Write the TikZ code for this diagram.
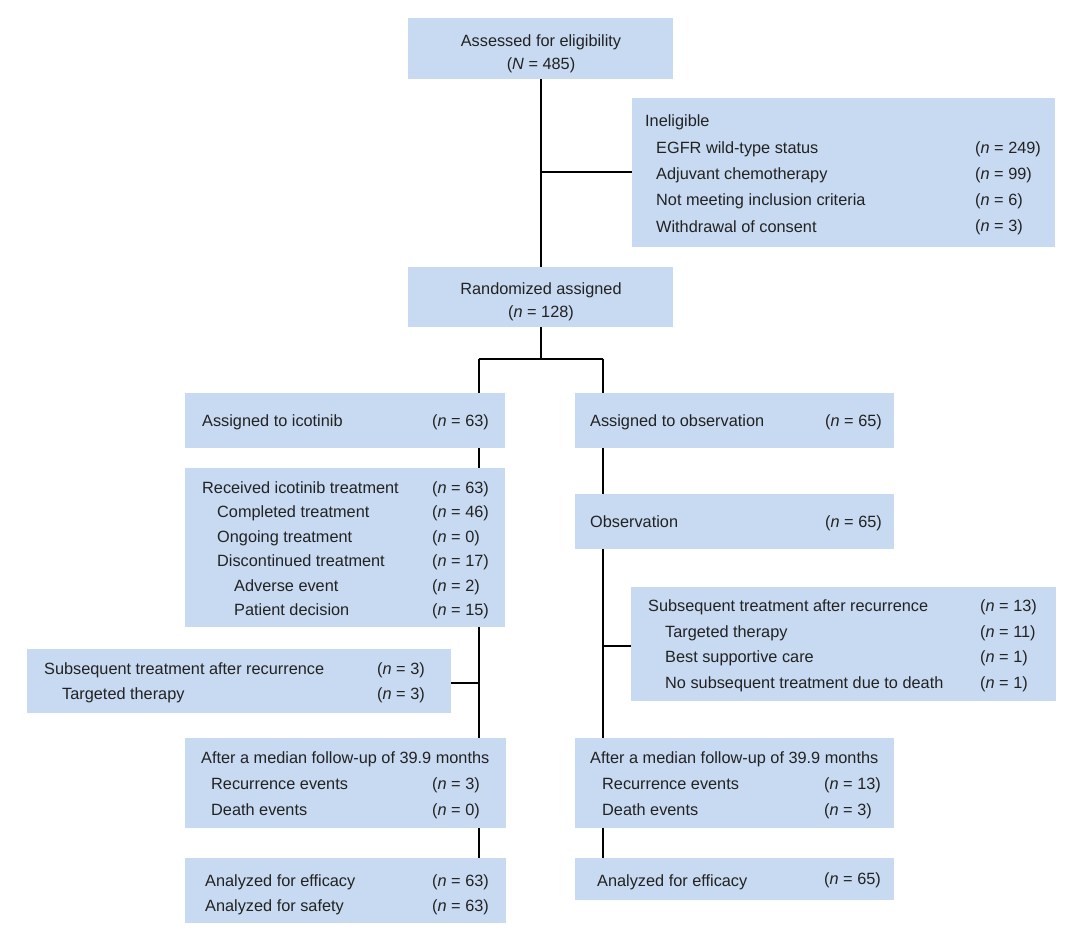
\documentclass[tikz,border=0pt]{standalone}
\usepackage{fontspec}
\setmainfont{Liberation Sans}
\definecolor{boxfill}{RGB}{200,218,241}
\definecolor{txtcol}{RGB}{34,34,34}
\tikzset{
  box/.style={fill=boxfill, draw=none, inner sep=0pt, outer sep=0pt},
  txt/.style={anchor=base west, inner sep=0pt, text=txtcol, font=\fontsize{16.3}{19}\selectfont},
  ctxt/.style={anchor=base, inner sep=0pt, text=txtcol, font=\fontsize{16.3}{19}\selectfont},
  link/.style={draw=black, line width=2.3pt}
}
\newcommand{\mkbox}[5]{%
  \pgfmathsetmacro{\bw}{#4-#2}\pgfmathsetmacro{\bh}{#5-#3}%
  \node[box, minimum width=\bw pt, minimum height=\bh pt] (#1) at ({(#2+#4)/2},{(#3+#5)/2}) {};}
\newcommand{\nn}[1]{(\textit{n} = #1)}
\begin{document}
\begin{tikzpicture}[x=1pt,y=-1pt]
\fill[white] (0,0) rectangle (1080,937);
\useasboundingbox (0,0) rectangle (1080,937);
% boxes
\mkbox{assess}{408}{18}{673}{79}
\mkbox{inel}{632}{98}{1055}{247}
\mkbox{rand}{408}{267}{673}{327}
\mkbox{aico}{185}{393}{505}{448}
\mkbox{rico}{185}{468}{505}{627}
\mkbox{aobs}{575}{393}{894}{448}
\mkbox{obs}{575}{494}{894}{549}
\mkbox{subR}{631}{587}{1056}{701}
\mkbox{subL}{27}{649}{451}{713}
\mkbox{medL}{185}{738}{506}{828}
\mkbox{medR}{575}{738}{894}{828}
\mkbox{anaL}{185}{858}{506}{923}
\mkbox{anaR}{575}{858}{894}{900}
% junction coordinates
\coordinate (j1) at (541,172);
\coordinate (j2) at (541,359);
\coordinate (jl) at (479,359);
\coordinate (jr) at (603,359);
\coordinate (jL) at (479,683);
\coordinate (jR) at (603,646);
% connectors
\draw[link] (assess.south -| j1) -- (rand.north -| j1);
\draw[link] (j1) -- (inel.west |- j1);
\draw[link] (rand.south -| j2) -- (j2);
\draw[link] (jl) -- (jr);
\draw[link] (jl) -- (aico.north -| jl);
\draw[link] (jr) -- (aobs.north -| jr);
\draw[link] (aico.south -| jl) -- (rico.north -| jl);
\draw[link] (rico.south -| jl) -- (medL.north -| jl);
\draw[link] (jL) -- (subL.east |- jL);
\draw[link] (medL.south -| jl) -- (anaL.north -| jl);
\draw[link] (aobs.south -| jr) -- (obs.north -| jr);
\draw[link] (obs.south -| jr) -- (medR.north -| jr);
\draw[link] (jR) -- (subR.west |- jR);
\draw[link] (medR.south -| jr) -- (anaR.north -| jr);
% texts
\node[ctxt] (t1) at (541,46) {Assessed for eligibility};
\node[ctxt] (t2) at (541,69) {(\textit{N} = 485)};
\node[txt] (t3) at (645,126) {Ineligible};
\node[txt] (t4) at (656,153) {EGFR wild-type status};
\node[txt] (t5) at (975,153) {\nn{249}};
\node[txt] (t6) at (656,179) {Adjuvant chemotherapy};
\node[txt] (t7) at (975,179) {\nn{99}};
\node[txt] (t8) at (656,205) {Not meeting inclusion criteria};
\node[txt] (t9) at (975,205) {\nn{6}};
\node[txt] (t10) at (656,232) {Withdrawal of consent};
\node[txt] (t11) at (975,231) {\nn{3}};
\node[ctxt] (t12) at (541,294) {Randomized assigned};
\node[ctxt] (t13) at (541,317) {\nn{128}};
\node[txt] (t14) at (202,426) {Assigned to icotinib};
\node[txt] (t15) at (432,426) {\nn{63}};
\node[txt] (t16) at (202,493) {Received icotinib treatment};
\node[txt] (t17) at (432,493) {\nn{63}};
\node[txt] (t18) at (217,517) {Completed treatment};
\node[txt] (t19) at (432,517) {\nn{46}};
\node[txt] (t20) at (217,542) {Ongoing treatment};
\node[txt] (t21) at (432,542) {\nn{0}};
\node[txt] (t22) at (217,566) {Discontinued treatment};
\node[txt] (t23) at (432,566) {\nn{17}};
\node[txt] (t24) at (234,591) {Adverse event};
\node[txt] (t25) at (432,591) {\nn{2}};
\node[txt] (t26) at (234,615) {Patient decision};
\node[txt] (t27) at (432,615) {\nn{15}};
\node[txt] (t28) at (590,426) {Assigned to observation};
\node[txt] (t29) at (825,426) {\nn{65}};
\node[txt] (t30) at (590,527) {Observation};
\node[txt] (t31) at (825,527) {\nn{65}};
\node[txt] (t32) at (648,611) {Subsequent treatment after recurrence};
\node[txt] (t33) at (980,611) {\nn{13}};
\node[txt] (t34) at (665,637) {Targeted therapy};
\node[txt] (t35) at (980,637) {\nn{11}};
\node[txt] (t36) at (665,662) {Best supportive care};
\node[txt] (t37) at (980,662) {\nn{1}};
\node[txt] (t38) at (665,688) {No subsequent treatment due to death};
\node[txt] (t39) at (980,688) {\nn{1}};
\node[txt] (t40) at (44,674) {Subsequent treatment after recurrence};
\node[txt] (t41) at (377,674) {\nn{3}};
\node[txt] (t42) at (62,699) {Targeted therapy};
\node[txt] (t43) at (377,699) {\nn{3}};
\node[txt] (t44) at (201,763) {After a median follow-up of 39.9 months};
\node[txt] (t45) at (211,789) {Recurrence events};
\node[txt] (t46) at (432,789) {\nn{3}};
\node[txt] (t47) at (211,815) {Death events};
\node[txt] (t48) at (432,815) {\nn{0}};
\node[txt] (t49) at (590,763) {After a median follow-up of 39.9 months};
\node[txt] (t50) at (602,789) {Recurrence events};
\node[txt] (t51) at (824,789) {\nn{13}};
\node[txt] (t52) at (602,815) {Death events};
\node[txt] (t53) at (824,815) {\nn{3}};
\node[txt] (t54) at (205,886) {Analyzed for efficacy};
\node[txt] (t55) at (432,886) {\nn{63}};
\node[txt] (t56) at (205,911) {Analyzed for safety};
\node[txt] (t57) at (432,911) {\nn{63}};
\node[txt] (t58) at (597,886) {Analyzed for efficacy};
\node[txt] (t59) at (824,884) {\nn{65}};
\end{tikzpicture}
\end{document}
